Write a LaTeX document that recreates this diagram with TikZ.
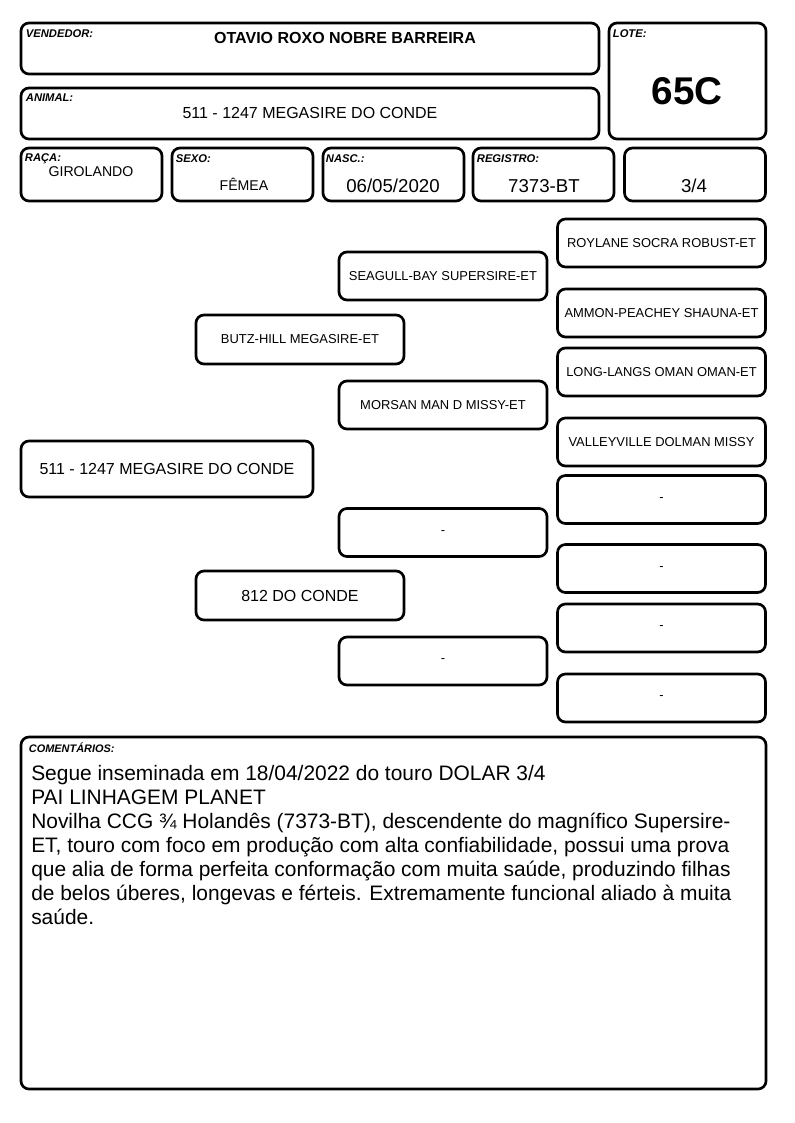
\documentclass[tikz,border=0pt]{standalone}
\usepackage{fontspec}
\setmainfont{Liberation Sans}
\usetikzlibrary{positioning}

\begin{document}
\begin{tikzpicture}[
  x=0.75pt, y=-0.75pt,
  box/.style={draw, line width=2pt, rounded corners=6pt, inner sep=0pt},
  pbox/.style={box, minimum width=156pt, minimum height=36pt, font=\fontsize{9.7}{11}\selectfont},
  tag/.style={inner sep=0pt, anchor=north west, font=\fontsize{8.4}{10}\selectfont\bfseries\itshape},
  val/.style={inner sep=0pt, font=\fontsize{14}{16}\selectfont}
]
  \useasboundingbox (0,0) rectangle (794,1123);

  % header
  \node[box, minimum width=433.5pt, minimum height=38.25pt] (vend) at (310,48.5) {};
  \node[tag] (vendtag) at ([shift={(6,8)}]vend.north west) {VENDEDOR:};
  \node[inner sep=0pt, font=\fontsize{12}{14}\selectfont\bfseries] (vendname) at (345,38) {OTAVIO ROXO NOBRE BARREIRA};

  \node[box, minimum width=433.5pt, minimum height=38.25pt] (animal) at (310,113.5) {};
  \node[tag] (animaltag) at ([shift={(6,7)}]animal.north west) {ANIMAL:};
  \node[inner sep=0pt, font=\fontsize{12}{14}\selectfont] (animalname) at (310,113) {511 - 1247 MEGASIRE DO CONDE};

  \node[box, minimum width=117.75pt, minimum height=87pt] (lote) at (687.5,81) {};
  \node[tag] (lotetag) at ([shift={(5,8)}]lote.north west) {LOTE:};
  \node[inner sep=0pt, font=\fontsize{29}{32}\selectfont\bfseries] (lotenum) at (687,91) {65C};

  % second row
  \foreach \n/\cx in {raca/91.5, sexo/242.5, nasc/393.5, reg/543.5, grau/695}
    \node[box, minimum width=105.75pt, minimum height=39.75pt] (\n) at (\cx,174.5) {};
  \node[tag] (racatag) at ([shift={(5,7)}]raca.north west) {RAÇA:};
  \node[tag] (sexotag) at ([shift={(5,8)}]sexo.north west) {SEXO:};
  \node[tag] (nasctag) at ([shift={(4,8)}]nasc.north west) {NASC.:};
  \node[tag] (regtag) at ([shift={(5,8)}]reg.north west) {REGISTRO:};
  \node[val, font=\fontsize{10.6}{12}\selectfont] (racaval) at (91,172) {GIROLANDO};
  \node[val, font=\fontsize{10.6}{12}\selectfont] (sexoval) at (244,184) {FÊMEA};
  \node[val] (nascval) at (393,186) {06/05/2020};
  \node[val] (regval) at (544,186) {7373-BT};
  \node[val] (grauval) at (694,186) {3/4};

  % pedigree
  \node[box, minimum width=219pt, minimum height=42pt, font=\fontsize{12}{14}\selectfont] (main) at (167,469) {511 - 1247 MEGASIRE DO CONDE};
  \node[box, minimum width=156pt, minimum height=36.75pt, font=\fontsize{9.7}{11}\selectfont] (sire) at (300,339.5) {BUTZ-HILL MEGASIRE-ET};
  \node[box, minimum width=156pt, minimum height=36.75pt, font=\fontsize{12}{14}\selectfont] (dam) at (300,595.5) {812 DO CONDE};

  \node[pbox] (ss) at (443,276) {SEAGULL-BAY SUPERSIRE-ET};
  \node[pbox] (sd) at (443,405) {MORSAN MAN D MISSY-ET};
  \node[pbox] (ds) at (443,532.5) {-};
  \node[pbox] (dd) at (443,661) {-};

  \node[pbox] (sss) at (661.5,243) {ROYLANE SOCRA ROBUST-ET};
  \node[pbox] (ssd) at (661.5,313) {AMMON-PEACHEY SHAUNA-ET};
  \node[pbox] (sds) at (661.5,372) {LONG-LANGS OMAN OMAN-ET};
  \node[pbox] (sdd) at (661.5,442) {VALLEYVILLE DOLMAN MISSY};
  \node[pbox] (dss) at (661.5,499.5) {-};
  \node[pbox] (dsd) at (661.5,568.5) {-};
  \node[pbox] (dds) at (661.5,628) {-};
  \node[pbox] (ddd) at (661.5,698) {-};

  % comments
  \node[box, minimum width=558.75pt, minimum height=264pt] (coment) at (393.5,913) {};
  \node[tag, font=\fontsize{8.2}{9}\selectfont\bfseries\itshape] (comenttag) at ([shift={(9,7)}]coment.north west) {COMENTÁRIOS:};
  \node[anchor=north west, inner sep=0pt, align=left, font=\fontsize{15.7}{18}\selectfont] (comenttxt) at (31,765)
    {Segue inseminada em 18/04/2022 do touro DOLAR 3/4\\
     PAI LINHAGEM PLANET\\
     Novilha CCG ¾ Holandês (7373-BT), descendente do magnífico Supersire-\\
     ET, touro com foco em produção com alta confiabilidade, possui uma prova\\
     que alia de forma perfeita conformação com muita saúde, produzindo filhas\\
     de belos úberes, longevas e férteis. Extremamente funcional aliado à muita\\
     saúde.};
\end{tikzpicture}
\end{document}
